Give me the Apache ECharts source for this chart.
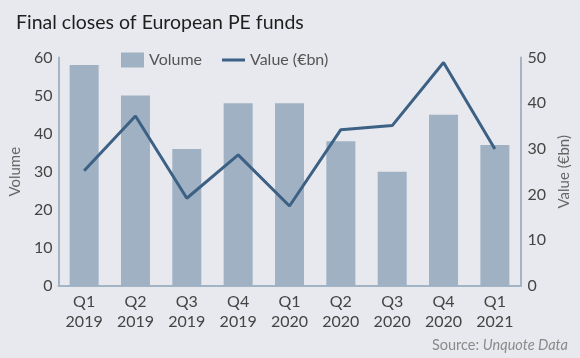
<!DOCTYPE html>
<html><head><meta charset="utf-8">
<script src="https://cdn.jsdelivr.net/npm/echarts@6/dist/echarts.min.js"></script>
<style>html,body{margin:0;padding:0;background:#e8e9ee;}#c{width:580px;height:358px;}</style>
</head><body><div id="c"></div>
<script>
const categories = ['Q1\n2019','Q2\n2019','Q3\n2019','Q4\n2019','Q1\n2020','Q2\n2020','Q3\n2020','Q4\n2020','Q1\n2021'];
const volume = [58, 50, 36, 48, 48, 38, 30, 45, 37];
const valueBn = [25.2, 37.2, 19.2, 28.7, 17.5, 34.2, 35.1, 48.9, 30.0];
const leftTicks = [0, 10, 20, 30, 40, 50, 60];
const rightTicks = [0, 10, 20, 30, 40, 50];

const chart = echarts.init(document.getElementById('c'), null, {renderer: 'canvas'});
const axisColor = '#a3b4c5';
const font = 'Lato';
const lineIcon = 'path://M0,0L0.01,0L0,0.01Z M0,6L24,6L24,9L0,9Z M24,15L23.99,15L24,14.99Z';
chart.setOption({
  backgroundColor: '#e8e9ee',
  animation: false,
  textStyle: {fontFamily: font},
  title: [{
    text: 'Final closes of European PE funds',
    left: 11, top: 8,
    textStyle: {fontFamily: font, fontSize: 19.5, fontWeight: 'normal', color: '#1e1e1e'}
  }, {
    text: '{n|Source: }{i|Unquote Data}',
    right: 7, top: 333,
    textStyle: {fontWeight: 'normal', rich: {
      n: {fontFamily: font, fontSize: 14.5, color: '#8a8a8a', fontWeight: 'normal'},
      i: {fontFamily: font, fontSize: 14.5, color: '#8a8a8a', fontStyle: 'italic', fontWeight: 'normal'}
    }}
  }],
  legend: {
    left: 116, top: 47,
    itemGap: 20, itemWidth: 23, itemHeight: 15,
    textStyle: {fontFamily: font, fontSize: 16, color: '#555'},
    data: [{name: 'Volume', icon: 'rect'}, {name: 'Value (€bn)', icon: lineIcon, itemStyle: {color: '#3d6184'}}]
  },
  grid: {left: 58, right: 58, top: 57.5, bottom: 72},
  xAxis: {
    type: 'category', data: categories,
    axisLine: {lineStyle: {color: axisColor, width: 2}},
    axisTick: {show: false},
    axisLabel: {fontFamily: font, fontSize: 16, color: '#444', lineHeight: 20, margin: 6}
  },
  yAxis: [{
    type: 'value', min: leftTicks[0], max: leftTicks[leftTicks.length-1], interval: 10,
    name: 'Volume', nameLocation: 'middle', nameGap: 35, nameRotate: 90,
    nameTextStyle: {fontFamily: font, fontSize: 15, color: '#666'},
    axisLine: {show: true, lineStyle: {color: axisColor, width: 2}},
    axisTick: {show: false}, splitLine: {show: false},
    axisLabel: {fontFamily: font, fontSize: 16, color: '#444', margin: 6}
  }, {
    type: 'value', min: rightTicks[0], max: rightTicks[rightTicks.length-1], interval: 10,
    name: 'Value (€bn)', nameLocation: 'middle', nameGap: 35, nameRotate: 90,
    nameTextStyle: {fontFamily: font, fontSize: 15, color: '#666'},
    axisLine: {show: true, lineStyle: {color: axisColor, width: 2}},
    axisTick: {show: false}, splitLine: {show: false},
    axisLabel: {fontFamily: font, fontSize: 16, color: '#444', margin: 7}
  }],
  series: [{
    name: 'Volume', type: 'bar', data: volume, yAxisIndex: 0,
    barWidth: 29, itemStyle: {color: '#9fb1c3'}
  }, {
    name: 'Value (€bn)', type: 'line', data: valueBn, yAxisIndex: 1,
    symbol: 'none', lineStyle: {color: '#3d6184', width: 3},
    itemStyle: {color: '#3d6184'}
  }]
});
</script></body></html>
